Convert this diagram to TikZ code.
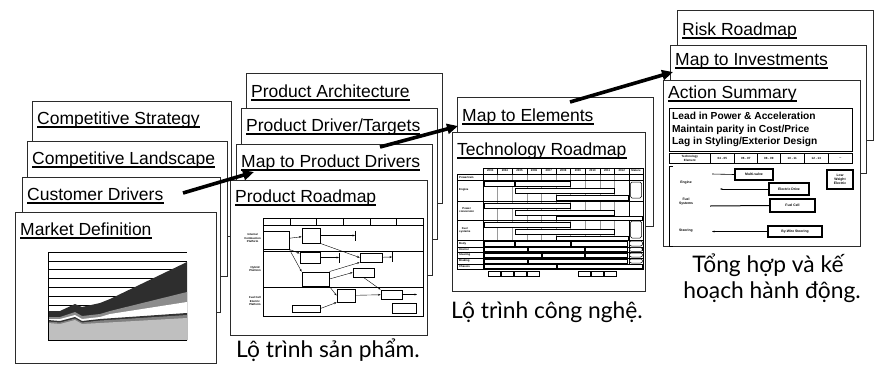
\documentclass[tikz,border=0pt]{standalone}
\usepackage{fontspec}
\setmainfont{Liberation Sans}
\newfontfamily\capfont{Lato}
\usetikzlibrary{arrows.meta,positioning,calc}
\definecolor{cardline}{HTML}{2B2B2B}
\definecolor{gridgray}{HTML}{9A9A9A}

\begin{document}
\begin{tikzpicture}[x=1pt, y=-1pt,
  card/.style={draw=cardline, line width=0.9pt, fill=white, anchor=north west, inner sep=0pt},
  cardtitle/.style={anchor=base west, inner sep=0pt, font=\fontsize{17.5}{20}\selectfont},
  uline/.style={line width=1.2pt},
  caption/.style={anchor=base, inner sep=0pt, font=\capfont\fontsize{22.8}{26}\selectfont},
  flow/.style={-{Triangle[length=11pt,width=10pt]}, line width=3.6pt},
  pbox/.style={draw, line width=0.9pt, fill=white, inner sep=0pt},
  parr/.style={-{Stealth[length=2.5pt]}, line width=0.4pt},
  tbar/.style={draw, line width=0.5pt, fill=white},
  tiny/.style={inner sep=0pt, font=\bfseries\fontsize{2.8}{3.2}\selectfont, align=center},
  abox/.style={draw, line width=1.3pt, fill=white, inner sep=0pt, font=\bfseries\fontsize{3.4}{4}\selectfont, align=center},
  acell/.style={draw, line width=0.6pt, anchor=north west, inner sep=0pt, minimum height=10pt, font=\bfseries\fontsize{3}{3.4}\selectfont, align=center}
]
\useasboundingbox (0,0) rectangle (878,365);

% the four stacks of slides, back to front
\foreach \n/\x/\y/\w/\h/\dy/\t in {
  cs/32/101/199/135/23/{Competitive Strategy},
  cl/27/141/200/135/23/{Competitive Landscape},
  cd/22/177/198/135/23/{Customer Drivers},
  md/15/212/201/151/23/{Market Definition},
  pa/246/73/196/130/24/{Product Architecture},
  pdt/241/108/196/131/23/{Product Driver/Targets},
  mpd/236/144/196/131/23/{Map to Product Drivers},
  pr/230/180/197/155/22/{Product Roadmap},
  me/457/97/196/129/24/{Map to Elements},
  tr/452/132/193/159/23/{Technology Roadmap},
  rr/677/10/196/130/25/{Risk Roadmap},
  mi/670/45/196/128/20/{Map to Investments},
  as/663/80/197/166/18/{Action Summary}}
{
  \node[card, minimum width=\w pt, minimum height=\h pt] (\n) at (\x,\y) {};
  \node[cardtitle] (\n-t) at ([xshift=5pt,yshift=-\dy pt]\n.north west) {\t};
  \draw[uline] ([yshift=-3pt]\n-t.base west) -- ([yshift=-3pt]\n-t.base east);
}

% market definition chart
\foreach \g in {252,260.8,...,340} \draw[line width=0.5pt] (48,\g) -- (187,\g);
\fill[black!82] (48,340) -- (48,311) -- (60,311) -- (75,304) -- (82,307) -- (100,303) -- (110,299) -- (187,262) -- (187,340) -- cycle;
\fill[black!45] (48,340) -- (48,317) -- (60,317) -- (75,312) -- (82,316) -- (100,314) -- (110,311) -- (187,292) -- (187,340) -- cycle;
\fill[white] (48,340) -- (48,319) -- (60,319) -- (75,315) -- (82,319) -- (100,317) -- (110,314) -- (187,302) -- (187,340) -- cycle;
\fill[black!80] (48,340) -- (48,320) -- (60,321) -- (75,317) -- (82,321) -- (100,319) -- (187,313) -- (187,340) -- cycle;
\fill[black!50] (48,340) -- (48,321.5) -- (60,322.5) -- (75,318.5) -- (82,322.5) -- (100,320.5) -- (187,315) -- (187,340) -- cycle;
\fill[black!25] (48,340) -- (48,323) -- (60,324) -- (75,320) -- (82,324) -- (100,323) -- (187,318) -- (187,340) -- cycle;
\draw[line width=0.6pt] (48,252) -- (48,340) -- (187,340);

% product roadmap thumbnail
\draw[line width=0.7pt] (263,225) rectangle (423,316);
\draw[line width=0.9pt] (263,218) rectangle (423,225);
\foreach \c in {290,316,343,370,396} \draw[line width=0.7pt] (\c,218) -- (\c,225);
\draw[line width=0.7pt] (263,251) -- (423,251) (263,287) -- (423,287);
\node[tiny, anchor=east] (icp) at (261,238) {Internal\\Combustion\\Platform};
\node[tiny, anchor=east] (hyp) at (261,269) {Hybrid\\Platform};
\node[tiny, anchor=east] (fcp) at (261,301) {Fuel Cell\\Electric\\Platform};
\node[pbox, minimum width=26pt, minimum height=18pt] (ma) at (276,240) {};
\node[pbox, minimum width=18pt, minimum height=15pt] (mb) at (311,235.5) {};
\node[pbox, minimum width=20pt, minimum height=11pt] (mc) at (310,257.5) {};
\node[pbox, minimum width=22pt, minimum height=9pt] (mdd) at (371,257.5) {};
\node[pbox, minimum width=27pt, minimum height=14pt] (me2) at (315.5,279) {};
\node[pbox, minimum width=21pt, minimum height=9pt] (mf) at (363.5,272.5) {};
\node[pbox, minimum width=18pt, minimum height=13pt] (mg) at (346,295.5) {};
\node[pbox, minimum width=21pt, minimum height=9pt] (mh) at (391.5,294.5) {};
\node[pbox, minimum width=24pt, minimum height=10pt] (mi2) at (404,308) {};
\node[pbox, minimum width=28pt, minimum height=7pt] (mj) at (306,308.5) {};
\coordinate (endb) at (355,235.5);
\coordinate (endc) at (339,257.5);
\coordinate (endd) at (392,257);
\coordinate (endh) at (417,294.5);
\draw[parr] (mb) -- (endb);
\draw[parr] (mc) -- (endc);
\draw[parr] (mdd) -- (endd);
\draw[parr] (mh) -- (endh);
\foreach \e in {endb,endc,endd} \draw[line width=0.7pt] ([yshift=5pt]\e) -- ([yshift=-5pt]\e);
\draw[parr] (ma) -- (mb);
\draw[parr] (ma.south east) -- (mc);
\draw[parr] (ma.south east) -- (me2.north west);
\draw[parr] (mb.south east) -- (mdd.west);
\draw[parr] (me2.north east) -- (mdd.south west);
\draw[parr] (me2.east) -- (mf.west);
\draw[parr] (me2.south east) -- (mg.west);
\draw[parr] (mf.south) -- (mh.north west);
\draw[parr] (mj.east) -- (mg.south west);
\draw[parr] (mg) -- (mh);

% technology roadmap thumbnail
\foreach \c in {497.6,512.2,526.8,541.4,556,570.6,585.2,599.8,614.4} \draw[gridgray, line width=0.4pt] (\c,174) -- (\c,269);
\draw[line width=0.7pt] (457,174) rectangle (643,269);
\draw[line width=0.7pt] (483,168) rectangle (643,174);
\draw[line width=0.7pt] (483,174) -- (483,269) (629,168) -- (629,269);
\foreach \c in {497.6,512.2,526.8,541.4,556,570.6,585.2,599.8,614.4} \draw[line width=0.6pt] (\c,168) -- (\c,174);
\foreach \r in {180,201,220,240,247,252,258,264} \draw[line width=0.6pt] (457,\r) -- (643,\r);
\foreach \yr [count=\i from 0] in {2003,2004,2005,2006,2007,2008,2009,2010,2011,2012}
  \node[tiny] (yr\i) at (490.3+14.6*\i,171) {\yr};
\node[tiny] (mat) at (636,171) {Mature};
\foreach \lab/\yy [count=\i] in {Powertrain/177,Engine/190,Power\\conversion/210,Fuel\\systems/230,Body/243.5,Interior/249.5,Steering/255,Braking/261,Chassis/266.5}
  \node[tiny, anchor=west] (row\i) at (459,\yy) {\lab};
\foreach \a/\b/\c/\d in {484/181/514/186, 515/181/570/186, 515/188/614/193, 556/195/628/200,
  484/203/570/208, 515/210/614/215, 556/216/642/220,
  484/222/570/227, 515/229/614/234, 556/236/628/240,
  484/241/514/246, 515/241/570/246, 571/241/627/246,
  484/247.6/527/251.4, 528/247.6/584/251.4, 585/247.6/627/251.4,
  484/253/541/257, 542/253/584/257, 585/253/627/257,
  484/259/527/263, 528/259/627/263,
  484/264.6/556/268.4, 557/264.6/642/268.4}
  \draw[tbar] (\a,\b) rectangle (\c,\d);
\foreach \b/\d in {182/198, 221/238} \draw[tbar, rounded corners=1.5pt] (630.5,\b) rectangle (641.5,\d);
\foreach \b/\d in {241/246, 247.6/251.4, 253/257, 259/263} \draw[tbar, rounded corners=2pt] (629.5,\b) rectangle (642.5,\d);
\foreach \a in {488,501,514,527,578,591,604} \draw[tbar, line width=0.7pt] (\a,271.5) rectangle (\a+12,276.5);

% action summary content
\node[draw, line width=0.9pt, anchor=north west, minimum width=183pt, minimum height=43pt, inner sep=0pt] (lead) at (669,108) {};
\node[anchor=west, align=left, inner sep=0pt, font=\bfseries\fontsize{10.2}{12.5}\selectfont] (leadtxt) at ([xshift=3pt,yshift=0.5pt]lead.west) {Lead in Power \& Acceleration\\Maintain parity in Cost/Price\\Lag in Styling/Exterior Design};
\foreach \a/\cw/\t [count=\i] in {669/41/{Technology\\Element}, 710/24/{04 - 05}, 734/23/{06 - 07}, 757/23/{08 - 09}, 780/24/{10 - 11}, 804/24/{12 - 13}, 828/24/{...}}
  \node[acell, minimum width=\cw pt] (te\i) at (\a,153) {\t};
\draw[line width=0.9pt] (673,166.5) -- (669.5,166.5) -- (669.5,246.5) -- (673,246.5);
\node[tiny, font=\bfseries\fontsize{3.4}{4}\selectfont] (eng) at (686,183) {Engine};
\node[tiny, font=\bfseries\fontsize{3.4}{4}\selectfont] (fsy) at (686,202) {Fuel\\Systems};
\node[tiny, font=\bfseries\fontsize{3.4}{4}\selectfont] (ste) at (686,231) {Steering};
\node[abox, minimum width=38pt, minimum height=11pt] (mv) at (754,174.5) {Multi-valve};
\node[abox, minimum width=40pt, minimum height=12pt] (ed) at (789,189) {Electric Drive};
\node[abox, minimum width=45pt, minimum height=13pt] (fc) at (792.5,205.5) {Fuel Cell};
\node[abox, minimum width=54pt, minimum height=11pt] (bw) at (795,231.5) {By-Wire Steering};
\node[abox, minimum width=26pt, minimum height=19pt] (lw) at (840,179.5) {Low\\Weight\\Electric};
\coordinate (mvs) at (712,174);
\coordinate (edt) at (720,189);
\coordinate (fcs) at (710,206);
\coordinate (bwt) at (712,231.5);
\draw[line width=0.6pt] (mvs) -- (mv.west);
\draw[-{Stealth[length=2.5pt]}, line width=0.6pt] (ed.west) -- (edt);
\draw[line width=1pt] (fcs) -- (fc.west);
\draw[-{Stealth[length=2.5pt]}, line width=0.6pt] (bw.west) -- (bwt);

% captions
\node[caption] (prcap) at (328,357) {Lộ trình sản phẩm.};
\node[caption] (trcap) at (547,318) {Lộ trình công nghệ.};
\node[caption] (ascap1) at (768,272) {Tổng hợp và kế};
\node[caption] (ascap2) at (772,298) {hoạch hành động.};

% flow between the stacks
\coordinate (f1s) at (183,193);
\coordinate (f1e) at (254,172);
\coordinate (f2s) at (380,147);
\coordinate (f2e) at (458,126);
\coordinate (f3s) at (570,102);
\coordinate (f3e) at (673,72);
\draw[flow] (f1s) -- (f1e);
\draw[flow] (f2s) -- (f2e);
\draw[flow] (f3s) -- (f3e);
\end{tikzpicture}
\end{document}
